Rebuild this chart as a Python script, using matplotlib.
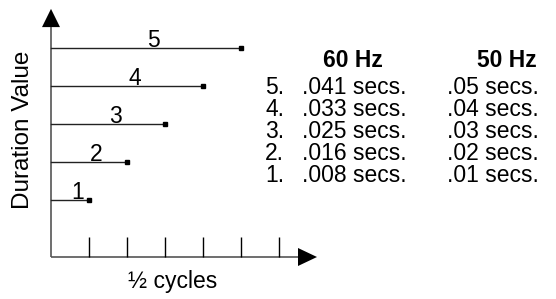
import numpy as np
import matplotlib

matplotlib.use("Agg")
import matplotlib.pyplot as plt

# half-cycle durations (level = number of half cycles)
levels = [1, 2, 3, 4, 5]
level_labels = ["1", "2", "3", "4", "5"]
secs_60hz = [".008 secs.", ".016 secs.", ".025 secs.", ".033 secs.", ".041 secs."]
secs_50hz = [".01 secs.", ".02 secs.", ".03 secs.", ".04 secs.", ".05 secs."]
x_ticks = [1, 2, 3, 4, 5, 6]

W, H = 556, 299
FS = 16.5
plt.rcParams["font.family"] = ["Liberation Sans", "DejaVu Sans"]

fig = plt.figure(figsize=(W / 100, H / 100), dpi=100)
ax = fig.add_axes([0, 0, 1, 1])
# 38 px per unit, origin at pixel (51, 257)
unit = 38.0
ox, oy = 51.0, 257.0
ax.set_xlim(-ox / unit, (W - ox) / unit)
ax.set_ylim(-(H - oy) / unit, oy / unit)
ax.axis("off")

axis_col = "#555555"
x_end, y_end = 6.5, 6.05
ax.plot([0, 0], [0, y_end], color=axis_col, lw=1.2, solid_capstyle="butt")
ax.plot([0, x_end], [0, 0], color=axis_col, lw=1.2, solid_capstyle="butt")
hw = 9 / unit
ax.fill([-hw, hw, 0], [y_end, y_end, 6.53], color="black", lw=0)
ax.fill([x_end, x_end, 7.0], [-hw, hw, 0], color="black", lw=0)
ax.vlines(x_ticks, 0, 0.53, color="black", lw=1.0)

# duration bars
for lv, lab in zip(levels, level_labels):
    y = lv + 0.5
    ax.plot([0, lv], [y, y], color="#222222", lw=1.0)
    ax.plot([lv], [y], marker="s", ms=3.2, color="black", mec="black")
    ax.text(0.5 * lv + 0.2, y + 0.02, lab, fontsize=FS, ha="center", va="baseline")

ax.text(-28 / unit, 127 / unit, "Duration Value", rotation=90, fontsize=17.5,
        ha="center", va="center")
ax.text(122 / unit, -31 / unit, "\u00bd cycles", fontsize=FS, ha="center", va="baseline")


def fx(px):
    return px / W


def fy(py):
    return 1 - py / H


fig.text(fx(353), fy(67), "60 Hz", fontsize=FS, fontweight="bold", ha="center", va="baseline")
fig.text(fx(507), fy(67), "50 Hz", fontsize=FS, fontweight="bold", ha="center", va="baseline")
row_y = [182, 160, 138, 116, 94]
for lv, a, b, ry in zip(levels, secs_60hz, secs_50hz, row_y):
    fig.text(fx(265), fy(ry), f"{lv}.", fontsize=FS, ha="left", va="baseline")
    fig.text(fx(302), fy(ry), a, fontsize=FS, ha="left", va="baseline")
    fig.text(fx(447), fy(ry), b, fontsize=FS, ha="left", va="baseline")

fig.savefig("out.png", dpi=100, facecolor="white")
